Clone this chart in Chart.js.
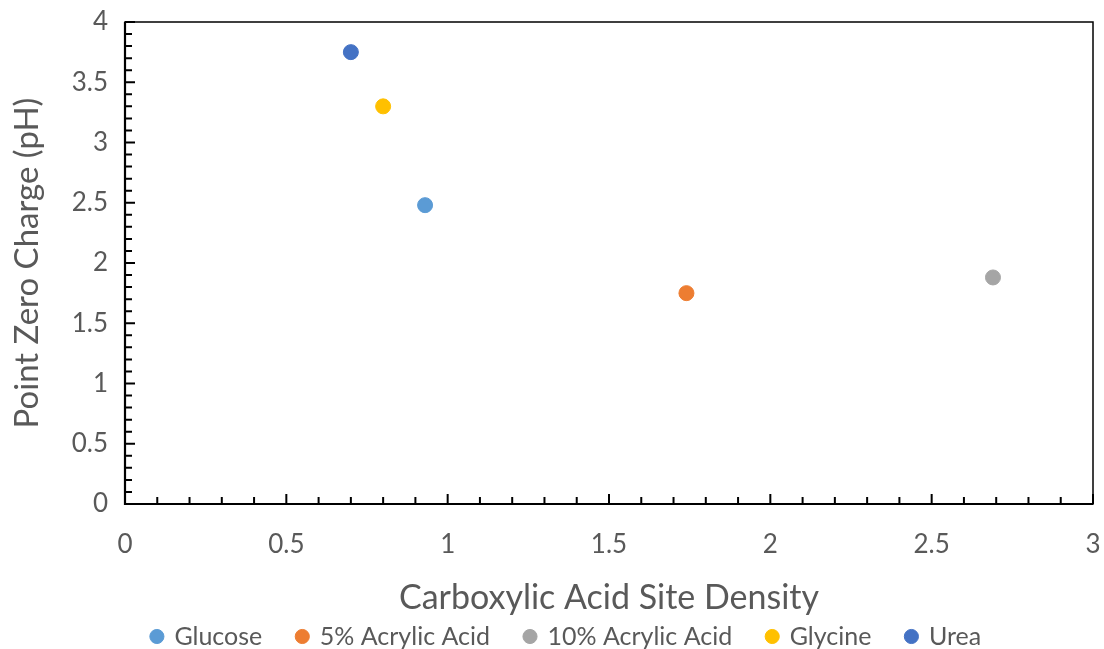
<!DOCTYPE html>
<html>
<head>
<meta charset="utf-8">
<script src="https://cdn.jsdelivr.net/npm/chart.js@4"></script>
<style>
  html, body { margin: 0; padding: 0; background: #fff; }
  #wrap { width: 1104px; height: 649px; }
</style>
</head>
<body>
<div id="wrap"><canvas id="chart" width="1104" height="649"></canvas></div>
<script>
const seriesNames = ["Glucose", "5% Acrylic Acid", "10% Acrylic Acid", "Glycine", "Urea"];
const siteDensity = [0.93, 1.74, 2.69, 0.80, 0.70];
const pzc = [2.48, 1.75, 1.88, 3.30, 3.75];
const seriesColors = ["#5B9BD5", "#ED7D31", "#A5A5A5", "#FFC000", "#4472C4"];
const xTicks = [0, 0.5, 1, 1.5, 2, 2.5, 3];
const yTicks = [0, 0.5, 1, 1.5, 2, 2.5, 3, 3.5, 4];

const font = "Lato";
const textColor = "#595959";
const legendHeight = 31;
const legendShiftY = 29;
const legendShiftX = 20;

const datasets = seriesNames.map((name, i) => ({
  label: name,
  data: [{ x: siteDensity[i], y: pzc[i] }],
  backgroundColor: seriesColors[i],
  borderColor: seriesColors[i],
  pointRadius: 7.5,
  pointHoverRadius: 7.5,
  pointStyle: "circle"
}));

// frame + inward major/minor ticks, placed via the chart's own scales
const framePlugin = {
  id: "frame",
  afterInit(chart) {
    // keep the legend row compact while items stay widely spaced
    const lg = chart.legend;
    if (lg) {
      const fit = lg.fit;
      lg.fit = function () { fit.call(this); this.height = legendHeight; };
      const draw = lg.draw;
      lg.draw = function () {
        const t = this.top, l = this.left, r = this.right;
        this.top = t - legendShiftY;
        this.left = l + legendShiftX;
        this.right = r + legendShiftX;
        draw.call(this);
        this.top = t; this.left = l; this.right = r;
      };
    }
  },
  afterDraw(chart) {
    const ctx = chart.ctx;
    const a = chart.chartArea;
    const xs = chart.scales.x, ys = chart.scales.y;
    ctx.save();
    ctx.strokeStyle = "#000";
    ctx.lineWidth = 1.5;
    ctx.strokeRect(a.left, a.top, a.right - a.left, a.bottom - a.top);
    ctx.lineWidth = 2.2;
    ctx.beginPath();
    ctx.moveTo(a.left, a.top);
    ctx.lineTo(a.left, a.bottom);
    ctx.lineTo(a.right, a.bottom);
    ctx.stroke();
    ctx.lineWidth = 2;
    ctx.beginPath();
    for (let i = 0; i <= 30; i++) {
      const px = xs.getPixelForValue(i / 10);
      const len = i % 5 === 0 ? 10 : 7;
      ctx.moveTo(px, a.bottom);
      ctx.lineTo(px, a.bottom - len);
    }
    for (let i = 0; i <= 40; i++) {
      const py = ys.getPixelForValue(i / 10);
      const len = i % 5 === 0 ? 10 : 7;
      ctx.moveTo(a.left, py);
      ctx.lineTo(a.left + len, py);
    }
    ctx.stroke();
    ctx.restore();
  }
};

new Chart(document.getElementById("chart"), {
  type: "scatter",
  data: { datasets },
  plugins: [framePlugin],
  options: {
    responsive: false,
    animation: false,
    layout: { padding: { top: 22, right: 11, left: 0, bottom: 0 } },
    plugins: {
      tooltip: { enabled: false },
      legend: {
        position: "bottom",
        labels: {
          usePointStyle: true,
          pointStyle: "circle",
          boxWidth: 10,
          boxHeight: 10,
          padding: 35,
          color: textColor,
          font: { family: font, size: 25 }
        }
      }
    },
    scales: {
      x: {
        type: "linear",
        min: 0,
        max: 3,
        afterBuildTicks: s => { s.ticks = xTicks.map(v => ({ value: v })); },
        grid: { display: false },
        border: { display: false },
        ticks: {
          color: textColor,
          padding: 17,
          font: { family: font, size: 26 },
          callback: v => String(v)
        },
        title: {
          display: true,
          text: "Carboxylic Acid Site Density",
          color: textColor,
          font: { family: font, size: 34 },
          padding: { top: 20, bottom: 0 }
        },
        afterFit: s => { s.height = 114; s.paddingRight = 0; s.paddingLeft = 0; }
      },
      y: {
        type: "linear",
        min: 0,
        max: 4,
        afterBuildTicks: s => { s.ticks = yTicks.map(v => ({ value: v })); },
        grid: { display: false },
        border: { display: false },
        ticks: {
          color: textColor,
          padding: 9,
          font: { family: font, size: 26 },
          callback: v => String(v)
        },
        title: {
          display: true,
          text: "Point Zero Charge (pH)",
          color: textColor,
          font: { family: font, size: 33 },
          padding: { top: 8, bottom: 8 }
        },
        afterFit: s => { s.width = 125; s.paddingTop = 0; s.paddingBottom = 0; }
      }
    }
  }
});
</script>
</body>
</html>
